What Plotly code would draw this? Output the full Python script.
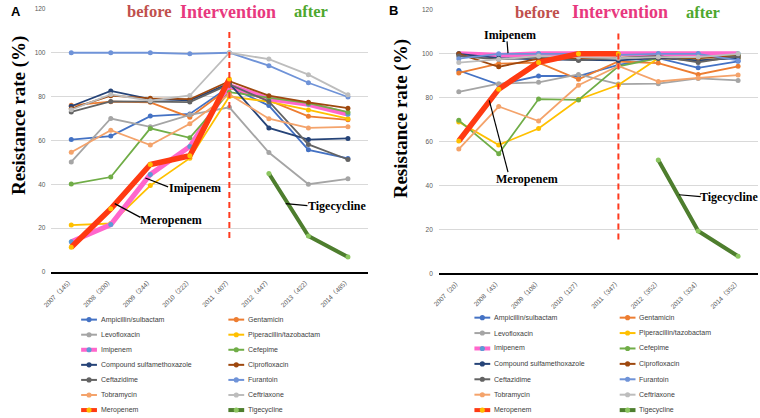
import plotly.graph_objects as go

# ---------------- data ----------------
years_A = ["2007（145）", "2008（200）", "2009（244）", "2010（222）",
           "2011（407）", "2012（447）", "2013（422）", "2014（485）"]
years_B = ["2007（20）", "2008（43）", "2009（108）", "2010（127）",
           "2011（347）", "2012（352）", "2013（324）", "2014（352）"]

names = ["Ampicillin/sulbactam", "Gentamicin", "Levofloxacin", "Piperacillin/tazobactam",
         "Imipenem", "Cefepime", "Compound sulfamethoxazole", "Ciprofloxacin",
         "Ceftazidime", "Furantoin", "Tobramycin", "Ceftriaxone", "Meropenem", "Tigecycline"]

# Panel A
A_ampicillin = [60.4, 62.0, 71.1, 72.1, 84.5, 75.9, 55.7, 51.8]
A_gentamicin = [76.0, 77.7, 77.4, 70.6, 84.0, 78.3, 71.0, 69.4]
A_levofloxacin = [50.2, 70.0, 66.2, 71.7, 75.1, 54.5, 40.0, 42.5]
A_piperacillin = [21.4, 22.1, 39.4, 51.9, 80.0, 77.7, 73.9, 69.9]
A_imipenem = [13.8, 21.6, 44.5, 57.2, 85.0, 79.0, 76.5, 72.0]
A_cefepime = [40.1, 43.3, 65.5, 61.2, 82.0, 79.5, 77.0, 72.9]
A_sulfamethoxazole = [75.6, 82.6, 78.8, 78.3, 86.0, 65.7, 60.4, 60.9]
A_ciprofloxacin = [74.5, 80.4, 79.2, 78.8, 87.0, 80.4, 77.4, 74.7]
A_ceftazidime = [73.0, 77.8, 77.7, 77.5, 85.5, 77.8, 58.2, 51.3]
A_furantoin = [100.0, 100.0, 100.0, 99.5, 100.0, 94.1, 86.3, 79.8]
A_tobramycin = [54.6, 64.7, 57.9, 67.6, 81.0, 69.9, 65.7, 66.2]
A_ceftriaxone = [74.0, 81.0, 78.1, 80.5, 100.0, 97.1, 90.0, 80.8]
A_meropenem = [11.3, 28.8, 49.0, 53.0, 88.0, None, None, None]
A_tigecycline = [None, None, None, None, None, 44.9, 16.4, 6.8]

# Panel B
B_ampicillin = [92.4, 86.0, 89.9, 89.9, 95.0, 98.0, 93.6, 96.6]
B_gentamicin = [91.3, 95.5, 96.0, 88.4, 96.5, 95.8, 90.6, 94.3]
B_levofloxacin = [82.7, 86.4, 87.0, 90.6, 86.2, 86.4, 88.8, 87.9]
B_piperacillin = [69.0, 58.5, 66.0, 79.2, 85.8, 98.0, 97.0, 98.0]
B_imipenem = [100.0, 99.3, 100.0, 100.0, 100.0, 100.0, 100.0, 100.0]
B_cefepime = [69.7, 54.5, 79.4, 79.0, 94.3, 98.0, 98.0, 99.5]
B_sulfamethoxazole = [100.0, 98.0, 97.5, 97.3, 97.0, 98.0, 97.0, 98.1]
B_ciprofloxacin = [100.0, 94.1, 97.8, 98.0, 98.0, 98.5, 98.0, 99.0]
B_ceftazidime = [99.0, 97.5, 98.5, 97.0, 98.0, 99.0, 96.1, 99.0]
B_furantoin = [97.8, 100.0, 100.0, 100.0, 99.5, 100.0, 100.0, 97.0]
B_tobramycin = [56.6, 76.0, 69.4, 85.7, 94.5, 87.4, 89.0, 90.3]
B_ceftriaxone = [96.0, 97.5, 99.0, 98.5, 98.0, 98.5, 98.5, 100.0]
B_meropenem = [60.3, 83.9, 96.1, 100.0, 100.0, None, None, None]
B_tigecycline = [None, None, None, None, None, 51.6, 19.3, 7.8]

# ---------------- styles ----------------
line_colors = ["#4472C4", "#ED7D31", "#A5A5A5", "#FFC000", "#FF66CC", "#70AD47",
               "#264478", "#9E480E", "#636363", "#6F93D8", "#F4A36B", "#BDBDBD",
               "#FF3A12", "#4E7E2E"]
marker_colors = ["#4472C4", "#ED7D31", "#A5A5A5", "#FFC000", "#5B9BD5", "#70AD47",
                 "#264478", "#9E480E", "#636363", "#6F93D8", "#F4A36B", "#BDBDBD",
                 "#FFC000", "#8CC660"]
line_widths = [1.8, 1.8, 1.8, 1.8, 5.0, 1.8, 1.8, 1.8, 1.8, 1.8, 1.8, 1.8, 5.5, 4.0]

A_series = [A_ampicillin, A_gentamicin, A_levofloxacin, A_piperacillin, A_imipenem,
            A_cefepime, A_sulfamethoxazole, A_ciprofloxacin, A_ceftazidime, A_furantoin,
            A_tobramycin, A_ceftriaxone, A_meropenem, A_tigecycline]
B_series = [B_ampicillin, B_gentamicin, B_levofloxacin, B_piperacillin, B_imipenem,
            B_cefepime, B_sulfamethoxazole, B_ciprofloxacin, B_ceftazidime, B_furantoin,
            B_tobramycin, B_ceftriaxone, B_meropenem, B_tigecycline]

W, H = 760, 418
def P(px, py):
    return px / W, 1 - py / H

fig = go.Figure()
for i, name in enumerate(names):
    fig.add_trace(go.Scatter(x=years_A, y=A_series[i], name=name, mode="lines+markers",
                             line=dict(color=line_colors[i], width=line_widths[i]),
                             marker=dict(color=marker_colors[i], size=5),
                             xaxis="x", yaxis="y", showlegend=False))
for i, name in enumerate(names):
    fig.add_trace(go.Scatter(x=years_B, y=B_series[i], name=name, mode="lines+markers",
                             line=dict(color=line_colors[i], width=line_widths[i]),
                             marker=dict(color=marker_colors[i], size=5),
                             xaxis="x2", yaxis="y2", showlegend=False))

tickfont = dict(family="Liberation Sans, Noto Sans CJK SC", size=6.5, color="#595959")
xcommon = dict(type="category", range=[-0.5, 7.5], tickangle=-45, tickfont=tickfont,
               showgrid=False, showline=True, linecolor="black", linewidth=2,
               ticks="", zeroline=False, fixedrange=True)
ycommon = dict(range=[0, 120], dtick=20, showgrid=True, gridcolor="#D9D9D9", gridwidth=1,
               zeroline=False, showline=False, tickfont=tickfont, ticks="",
               ticklabelstandoff=5, fixedrange=True)

fig.update_layout(
    width=W, height=H, margin=dict(l=0, r=0, t=0, b=0),
    paper_bgcolor="white", plot_bgcolor="white",
    xaxis=dict(domain=[43 / W, 363 / W], anchor="y", categoryorder="array",
               categoryarray=years_A, **xcommon),
    yaxis=dict(domain=[1 - 272.5 / H, 1 - 5 / H], anchor="x", **ycommon),
    xaxis2=dict(domain=[435 / W, 758 / W], anchor="y2", categoryorder="array",
                categoryarray=years_B, **xcommon),
    yaxis2=dict(domain=[1 - 274 / H, 1 - 6 / H], anchor="x2", **ycommon),
    showlegend=False,
)

shapes = []
annotations = []

# intervention dashed lines
for xr, yr, cat in (("x", "y", years_A[4]), ("x2", "y2", years_B[4])):
    shapes.append(dict(type="line", xref=xr, yref=yr, x0=cat, x1=cat, y0=15.5, y1=110,
                       line=dict(color="#FF3B1F", width=2, dash="6px,4px")))

serif = "Liberation Serif, DejaVu Serif, serif"
# top labels
for (cx, cy, txt, col, sz) in [
        (142, 8, "before", "#C0504D", 16.5), (222, 8, "Intervention", "#E8387E", 18),
        (306, 8, "after", "#4EA72E", 16.5),
        (535, 8.5, "before", "#C0504D", 16.5), (618, 8.5, "Intervention", "#E8387E", 18),
        (702, 8.5, "after", "#4EA72E", 16.5)]:
    x, y = P(cx, cy)
    annotations.append(dict(x=x, y=y, xref="paper", yref="paper", text=f"<b>{txt}</b>",
                            showarrow=False, xanchor="center", yanchor="middle",
                            font=dict(family=serif, size=sz, color=col)))

# y axis titles
for cx, cy in ((10, 113), (397, 117)):
    x, y = P(cx, cy)
    annotations.append(dict(x=x, y=y, xref="paper", yref="paper",
                            text="<b>Resistance rate (%)</b>", textangle=-90, showarrow=False,
                            xanchor="center", yanchor="middle",
                            font=dict(family=serif, size=19, color="black")))

# panel letters
for (cx, cy), t in zip(((7, 8), (389, 7)), ("A", "B")):
    x, y = P(cx, cy)
    annotations.append(dict(x=x, y=y, xref="paper", yref="paper", text=f"<b>{t}</b>",
                            showarrow=False, xanchor="center", yanchor="middle",
                            font=dict(family="Liberation Sans, Arial", size=13, color="black")))

# series call-out labels with leader lines
callouts = [
    # text centre, leader start, leader end, text
    ((188, 187), (138, 177), (161, 186), "Imipenem"),
    ((164, 220), (107, 203), (133, 217), "Meropenem"),
    ((332, 205), (280, 203), (302, 205), "Tigecycline"),
    ((507, 32), (505, 50), (504, 38), "Imipenem"),
    ((524, 178), (486, 98), (505, 171), "Meropenem"),
    ((729, 196), (678, 194), (700, 196), "Tigecycline"),
]
for (tc, l0, l1, txt) in callouts:
    x, y = P(*tc)
    annotations.append(dict(x=x, y=y, xref="paper", yref="paper", text=f"<b>{txt}</b>",
                            showarrow=False, xanchor="center", yanchor="middle",
                            font=dict(family=serif, size=12, color="black")))
    x0, y0 = P(*l0)
    x1, y1 = P(*l1)
    shapes.append(dict(type="line", xref="paper", yref="paper", x0=x0, y0=y0, x1=x1, y1=y1,
                       line=dict(color="black", width=1.2)))

# manual legends (two columns, seven rows per panel)
legend_layouts = [
    dict(cols=[(73, 89, 91), (222, 238, 240)], y0=321, dy=15.33),
    dict(cols=[(471, 487, 489), (618, 634, 636)], y0=319, dy=15.67),
]
for lay in legend_layouts:
    for i, name in enumerate(names):
        col, row = i % 2, i // 2
        xa, xb, xt = lay["cols"][col]
        py = lay["y0"] + lay["dy"] * row
        lw = 4 if line_widths[i] > 3 else 2
        x0, y = P(xa, py)
        x1, _ = P(xb, py)
        shapes.append(dict(type="line", xref="paper", yref="paper", x0=x0, x1=x1, y0=y, y1=y,
                           line=dict(color=line_colors[i], width=lw)))
        xm = (xa + xb) / 2
        cx0, cy0 = P(xm - 2.6, py - 2.6)
        cx1, cy1 = P(xm + 2.6, py + 2.6)
        shapes.append(dict(type="circle", xref="paper", yref="paper", x0=cx0, x1=cx1,
                           y0=cy1, y1=cy0, fillcolor=marker_colors[i],
                           line=dict(color=marker_colors[i], width=0)))
        xt_, _ = P(xt, py)
        annotations.append(dict(x=xt_, y=y, xref="paper", yref="paper", text=name,
                                showarrow=False, xanchor="left", yanchor="middle",
                                font=dict(family="Liberation Sans, Noto Sans", size=7,
                                          color="#404040")))

fig.update_layout(shapes=shapes, annotations=annotations)
fig.write_html("out.html", config={"displayModeBar": False},
               post_script="document.body.style.margin='0';document.body.style.overflow='hidden';")
